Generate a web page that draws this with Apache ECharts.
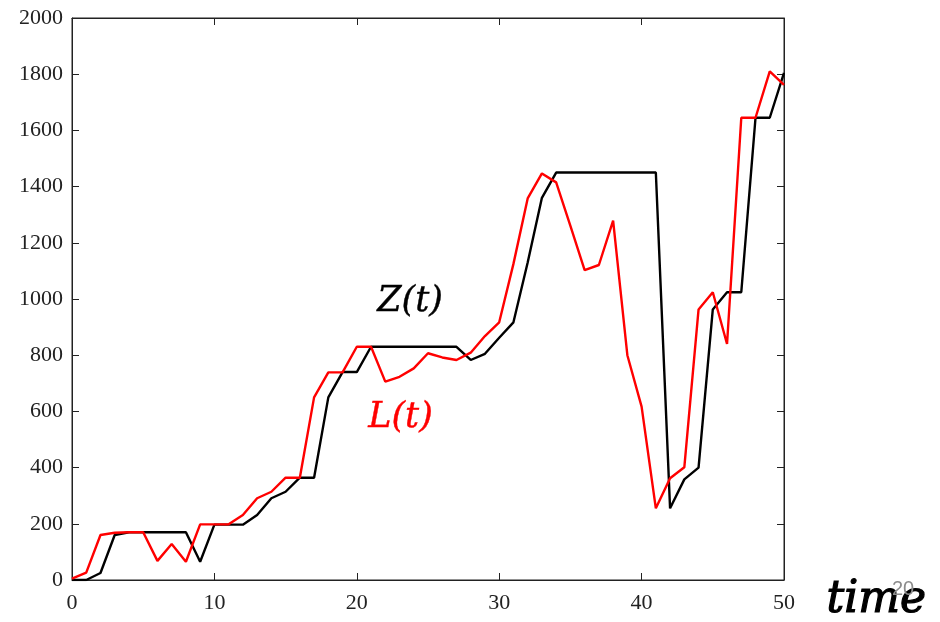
<!DOCTYPE html>
<html><head><meta charset="utf-8">
<script src="https://cdn.jsdelivr.net/npm/echarts@6/dist/echarts.min.js"></script>
<style>html,body{margin:0;padding:0;background:#fff}#c{width:940px;height:622px}</style>
</head><body><div id="c"></div>
<script>
var tValues = [];
for (var i = 0; i <= 50; i++) tValues.push(i);
var zValues = [0,0,25,160,170,170,170,170,170,65,197,197,197,231,291,314,364,364,650,740,740,830,830,830,830,830,830,830,783,805,862,917,1130,1360,1450,1450,1450,1450,1450,1450,1450,1450,255,358,400,963,1024,1024,1645,1645,1805];
var lValues = [5,26,160,168,170,170,68,128,65,198,198,198,231,291,314,364,364,650,739,739,830,830,706,723,753,807,792,783,809,868,917,1125,1358,1447,1415,1260,1103,1121,1279,800,617,255,362,401,963,1024,840,1645,1645,1810,1762];
var xTicks = [0,10,20,30,40,50];
var yTicks = [0,200,400,600,800,1000,1200,1400,1600,1800,2000];

function pairs(v){ return v.map(function(y,i){ return [tValues[i], y]; }); }

var font = '"Liberation Serif", "DejaVu Serif", serif';
var axLine = {show:true, onZero:false, lineStyle:{color:'#222', width:1}};
var tick = {show:true, inside:true, length:7, lineStyle:{color:'#222', width:1}};
var chart = echarts.init(document.getElementById('c'));
chart.setOption({
  animation:false,
  backgroundColor:'#fff',
  grid:{left:72, right:156, top:18, bottom:42, containLabel:false, show:true, borderColor:'#222', borderWidth:1, backgroundColor:'transparent'},
  xAxis:[
    {type:'value', min:0, max:50, interval:10, position:'bottom',
     axisLine:axLine, axisTick:tick,
     axisLabel:{fontFamily:font, fontSize:22, color:'#222', margin:12, formatter:function(v){return String(v);}}, splitLine:{show:false}},
    {type:'value', min:0, max:50, interval:10, position:'top',
     axisLine:axLine, axisTick:tick,
     axisLabel:{show:false}, splitLine:{show:false}}
  ],
  yAxis:[
    {type:'value', min:0, max:2000, interval:200, position:'left',
     axisLine:axLine, axisTick:tick,
     axisLabel:{fontFamily:font, fontSize:22, color:'#222', margin:9, formatter:function(v){return String(v);}}, splitLine:{show:false}},
    {type:'value', min:0, max:2000, interval:200, position:'right',
     axisLine:axLine, axisTick:tick,
     axisLabel:{show:false}, splitLine:{show:false}}
  ],
  series:[
    {type:'line', data:pairs(zValues), showSymbol:false, lineStyle:{color:'#000', width:2.4}, z:2},
    {type:'line', data:pairs(lValues), showSymbol:false, lineStyle:{color:'#ff0000', width:2.4}, z:3},
    {type:'line', xAxisIndex:1, yAxisIndex:1, data:[], showSymbol:false, silent:true}
  ],
  graphic:[
    {type:'text', left:377, top:284, style:{text:'Z(t)', font:'italic 35px "DejaVu Serif", serif', fill:'#000', stroke:'#000', lineWidth:0.4}},
    {type:'text', left:368, top:400, style:{text:'L(t)', font:'italic 35px "DejaVu Serif", serif', fill:'#ff0000', stroke:'#ff0000', lineWidth:0.4}},
    {type:'text', left:826, top:578, z:10, style:{text:'time', font:'italic 44px "DejaVu Serif", serif', fill:'#000', stroke:'#000', lineWidth:1.2}},
    {type:'text', left:892, top:579, z:20, style:{text:'20', font:'20px "Liberation Sans", sans-serif', fill:'#8c8c8c'}}
  ]
});
</script></body></html>
